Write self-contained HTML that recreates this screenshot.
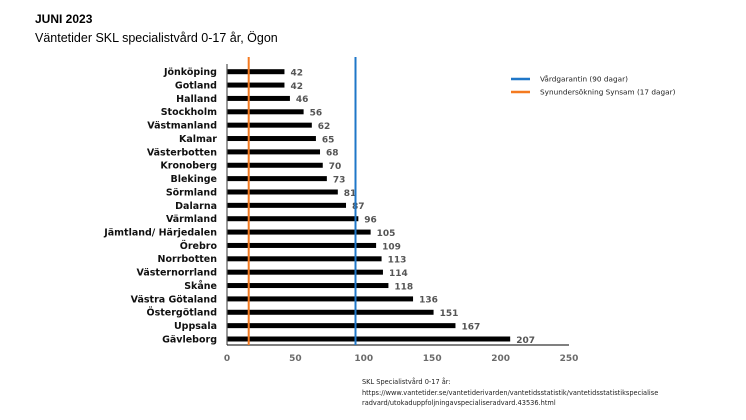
<!DOCTYPE html>
<html><head><meta charset="utf-8"><style>
html,body{margin:0;padding:0;background:#fff;}
svg{display:block}
</style></head><body>
<svg width="746" height="420" xmlns="http://www.w3.org/2000/svg">
<rect width="746" height="420" fill="#fff"/>
<text x="35" y="23" font-family="Liberation Sans, sans-serif" font-size="12" font-weight="bold" fill="#000">JUNI 2023</text>
<text x="35" y="42" font-family="Liberation Sans, sans-serif" font-size="12.5" fill="#000">Väntetider SKL specialistvård 0-17 år, Ögon</text>
<g fill="#000">
<rect x="227" y="69.2" width="57.46" height="5"/>
<rect x="227" y="82.57" width="57.46" height="5"/>
<rect x="227" y="95.93" width="62.93" height="5"/>
<rect x="227" y="109.3" width="76.61" height="5"/>
<rect x="227" y="122.66" width="84.82" height="5"/>
<rect x="227" y="136.03" width="88.92" height="5"/>
<rect x="227" y="149.39" width="93.02" height="5"/>
<rect x="227" y="162.76" width="95.76" height="5"/>
<rect x="227" y="176.12" width="99.86" height="5"/>
<rect x="227" y="189.49" width="110.81" height="5"/>
<rect x="227" y="202.85" width="119.02" height="5"/>
<rect x="227" y="216.22" width="131.33" height="5"/>
<rect x="227" y="229.58" width="143.64" height="5"/>
<rect x="227" y="242.95" width="149.11" height="5"/>
<rect x="227" y="256.31" width="154.58" height="5"/>
<rect x="227" y="269.68" width="155.95" height="5"/>
<rect x="227" y="283.04" width="161.42" height="5"/>
<rect x="227" y="296.41" width="186.05" height="5"/>
<rect x="227" y="309.77" width="206.57" height="5"/>
<rect x="227" y="323.14" width="228.46" height="5"/>
<rect x="227" y="336.5" width="283.18" height="5"/>
</g>
<g font-family="DejaVu Sans, sans-serif" font-size="9.5" font-weight="bold" fill="#111" text-anchor="end">
<text x="217" y="75.1">Jönköping</text>
<text x="217" y="88.47">Gotland</text>
<text x="217" y="101.83">Halland</text>
<text x="217" y="115.2">Stockholm</text>
<text x="217" y="128.56">Västmanland</text>
<text x="217" y="141.93">Kalmar</text>
<text x="217" y="155.29">Västerbotten</text>
<text x="217" y="168.66">Kronoberg</text>
<text x="217" y="182.02">Blekinge</text>
<text x="217" y="195.39">Sörmland</text>
<text x="217" y="208.75">Dalarna</text>
<text x="217" y="222.12">Värmland</text>
<text x="217" y="235.48">Jämtland/ Härjedalen</text>
<text x="217" y="248.85">Örebro</text>
<text x="217" y="262.21">Norrbotten</text>
<text x="217" y="275.58">Västernorrland</text>
<text x="217" y="288.94">Skåne</text>
<text x="217" y="302.31">Västra Götaland</text>
<text x="217" y="315.67">Östergötland</text>
<text x="217" y="329.04">Uppsala</text>
<text x="217" y="342.4">Gävleborg</text>
</g>
<g font-family="DejaVu Sans, sans-serif" font-size="9" font-weight="bold" fill="#555">
<text x="290.5" y="75.5">42</text>
<text x="290.5" y="88.87">42</text>
<text x="295.9" y="102.23">46</text>
<text x="309.6" y="115.6">56</text>
<text x="317.8" y="128.96">62</text>
<text x="321.9" y="142.33">65</text>
<text x="326.0" y="155.69">68</text>
<text x="328.8" y="169.06">70</text>
<text x="332.9" y="182.42">73</text>
<text x="343.8" y="195.79">81</text>
<text x="352.0" y="209.15">87</text>
<text x="364.3" y="222.52">96</text>
<text x="376.6" y="235.88">105</text>
<text x="382.1" y="249.25">109</text>
<text x="387.6" y="262.61">113</text>
<text x="389.0" y="275.98">114</text>
<text x="394.4" y="289.34">118</text>
<text x="419.1" y="302.71">136</text>
<text x="439.6" y="316.07">151</text>
<text x="461.5" y="329.44">167</text>
<text x="516.2" y="342.8">207</text>
</g>
<line x1="227" y1="64" x2="227" y2="345" stroke="#555" stroke-width="1.2"/>
<line x1="227" y1="345" x2="569" y2="345" stroke="#000" stroke-width="1"/>
<line x1="248.7" y1="57" x2="248.7" y2="345" stroke="#f47a20" stroke-width="2"/>
<line x1="355.5" y1="57" x2="355.5" y2="345" stroke="#1f77c8" stroke-width="2"/>
<g font-family="DejaVu Sans, sans-serif" font-size="9" font-weight="bold" fill="#6b6b6b" text-anchor="middle">
<text x="227" y="361">0</text><text x="295.4" y="361">50</text><text x="363.8" y="361">100</text><text x="432.2" y="361">150</text><text x="500.6" y="361">200</text><text x="569" y="361">250</text>
</g>
<line x1="511" y1="79" x2="530" y2="79" stroke="#1f77c8" stroke-width="2.5"/>
<line x1="511" y1="92" x2="530" y2="92" stroke="#f47a20" stroke-width="2.5"/>
<g font-family="DejaVu Sans, sans-serif" font-size="7.3" fill="#222">
<text x="540" y="81.5">Vårdgarantin (90 dagar)</text>
<text x="540" y="94.5">Synundersökning Synsam (17 dagar)</text>
</g>
<g font-family="DejaVu Sans, sans-serif" font-size="6.6" fill="#222">
<text x="362" y="384">SKL Specialistvård 0-17 år:</text>
<text x="362" y="395">https://www.vantetider.se/vantetiderivarden/vantetidsstatistik/vantetidsstatistikspecialise</text>
<text x="362" y="405">radvard/utokaduppfoljningavspecialiseradvard.43536.html</text>
</g>
</svg>
</body></html>
